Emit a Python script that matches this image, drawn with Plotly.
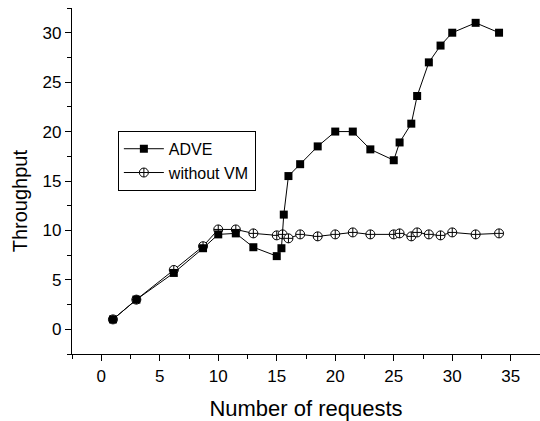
import plotly.graph_objects as go

# ADVE series
adve_x = [1, 3, 6.2, 8.7, 10, 11.5, 13, 15, 15.4, 15.6, 16, 17, 18.5, 20, 21.5, 23, 25, 25.5, 26.5, 27, 28, 29, 30, 32, 34]
adve_y = [1.0, 3.0, 5.7, 8.2, 9.6, 9.7, 8.3, 7.4, 8.2, 11.6, 15.5, 16.7, 18.5, 20.0, 20.0, 18.2, 17.1, 18.9, 20.8, 23.6, 27.0, 28.7, 30.0, 31.0, 30.0]

# without VM series
novm_x = [1, 3, 6.2, 8.7, 10, 11.5, 13, 15, 15.5, 16, 17, 18.5, 20, 21.5, 23, 25, 25.5, 26.5, 27, 28, 29, 30, 32, 34]
novm_y = [1.0, 3.0, 6.0, 8.4, 10.1, 10.1, 9.7, 9.5, 9.6, 9.2, 9.6, 9.4, 9.6, 9.8, 9.6, 9.6, 9.7, 9.4, 9.8, 9.6, 9.5, 9.8, 9.6, 9.7]

x_range = [-2.5, 37.5]
y_range = [-2.5, 32.5]
x_ticks = [0, 5, 10, 15, 20, 25, 30, 35]
y_ticks = [0, 5, 10, 15, 20, 25, 30]

x_title = "Number of requests"
y_title = "Throughput"

FONT = "Liberation Sans, Arial, sans-serif"

fig = go.Figure()
fig.add_trace(go.Scatter(
    x=novm_x, y=novm_y, name="without VM", mode="lines+markers", legendrank=2,
    line=dict(color="black", width=1),
    marker=dict(symbol="circle-cross", size=9, color="white",
                line=dict(color="black", width=1)),
))
fig.add_trace(go.Scatter(
    x=adve_x, y=adve_y, name="ADVE", mode="lines+markers", legendrank=1,
    line=dict(color="black", width=1),
    marker=dict(symbol="square", size=8, color="black"),
))

common_axis = dict(showgrid=False, zeroline=False, showline=True,
                   linecolor="black", linewidth=1.3, automargin=False)

fig.update_layout(
    width=540, height=421,
    margin=dict(l=72, r=0, t=8, b=67),
    paper_bgcolor="white", plot_bgcolor="white",
    font=dict(family=FONT, color="black", size=16),
    xaxis=dict(range=x_range, tickvals=x_ticks, ticks="outside", ticklen=6,
               tickwidth=1, tickcolor="black",
               minor=dict(dtick=2.5, tick0=0, ticks="outside", ticklen=4,
                          tickwidth=1, tickcolor="black", showgrid=False),
               tickfont=dict(size=17),
               title=dict(text=x_title, font=dict(size=22), standoff=16),
               **common_axis),
    yaxis=dict(range=y_range, tickvals=y_ticks, ticks="outside", ticklen=6,
               tickwidth=1, tickcolor="black",
               minor=dict(dtick=2.5, tick0=0, ticks="outside", ticklen=4,
                          tickwidth=1, tickcolor="black", showgrid=False),
               tickfont=dict(size=17),
               **common_axis),
    xaxis2=dict(range=x_range, overlaying="x", side="top", tickvals=x_ticks,
                ticks="inside", ticklen=5, tickwidth=1, tickcolor="black",
                showticklabels=False,
                minor=dict(dtick=2.5, tick0=0, ticks="inside", ticklen=4,
                           tickwidth=1, tickcolor="black", showgrid=False),
                **common_axis),
    yaxis2=dict(range=y_range, overlaying="y", side="right", tickvals=y_ticks,
                ticks="inside", ticklen=6, tickwidth=1, tickcolor="black",
                showticklabels=False,
                minor=dict(dtick=2.5, tick0=0, ticks="inside", ticklen=4,
                           tickwidth=1, tickcolor="black", showgrid=False),
                **common_axis),
    legend=dict(x=0.098, y=0.645, xanchor="left", yanchor="top",
                bordercolor="black", borderwidth=1, bgcolor="white",
                font=dict(size=16), tracegroupgap=0, itemwidth=40),
    annotations=[dict(text=y_title, textangle=-90, xref="paper", yref="paper",
                      x=-0.112, y=0.443, xanchor="center", yanchor="middle",
                      showarrow=False, font=dict(size=20))],
    showlegend=True,
)

fig.write_html("out.html", config={"displayModeBar": False})

# remove the browser's default page margin so the figure sits at (0, 0)
with open("out.html", "r", encoding="utf-8") as f:
    html = f.read()
html = html.replace("<head>", "<head><style>html,body{margin:0;padding:0;overflow:hidden;}</style>", 1)
with open("out.html", "w", encoding="utf-8") as f:
    f.write(html)
